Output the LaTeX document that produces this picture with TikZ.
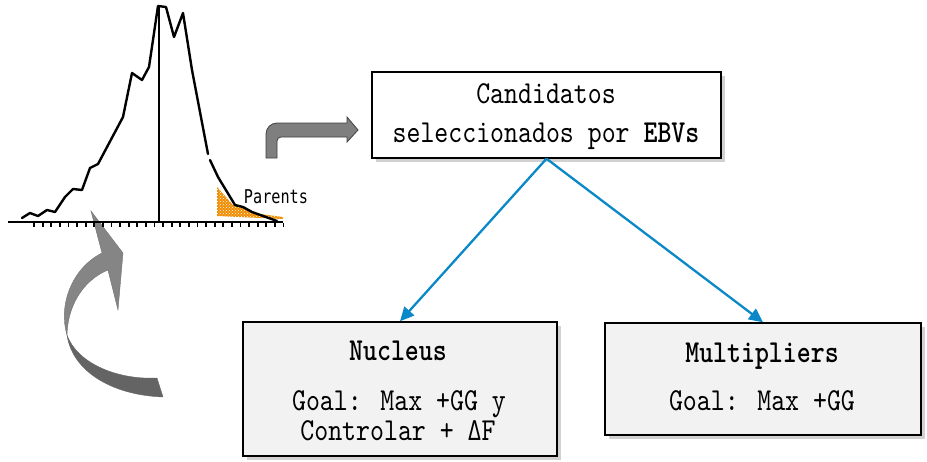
\documentclass[tikz,border=0pt]{standalone}
\usepackage{fontspec}
\newfontfamily\mainmono{lmmono10-regular.otf}[BoldFont=lmmonolt10-bold.otf,FakeStretch=0.83]
\newfontfamily\smallmono[FakeStretch=0.8]{DejaVu Sans Mono}
\usetikzlibrary{arrows.meta,shadows,patterns}
\definecolor{arrowblue}{RGB}{10,136,200}
\definecolor{boxgray}{RGB}{242,242,242}
\definecolor{arrowgrayA}{RGB}{133,133,133}
\definecolor{arrowgrayB}{RGB}{100,100,100}
\definecolor{bentgray}{RGB}{127,127,127}
\definecolor{parentorange}{RGB}{240,140,0}
\begin{document}
\begin{tikzpicture}[x=1pt,y=-1pt,
  boxw/.style={draw=black,line width=1.4pt,fill=white,inner sep=0pt,
    drop shadow={shadow xshift=3.5pt,shadow yshift=-3.5pt,fill=black!30,opacity=0.6}},
  boxg/.style={boxw,fill=boxgray},
  lbl/.style={font=\mainmono\fontsize{32}{36}\selectfont,anchor=base,inner sep=0pt},
  plbl/.style={font=\smallmono\fontsize{19}{22}\selectfont,anchor=base,inner sep=0pt},
  conn/.style={draw=arrowblue,line width=2.3pt,-{Triangle[length=14pt,width=13pt]}},
  curveline/.style={draw=black,line width=2.4pt,line join=round,line cap=round},
  axisline/.style={draw=black,line width=2.2pt}
]
\useasboundingbox (0,0) rectangle (927,461);

% big curved gray arrow (drawn first, axis passes over it)
\fill[arrowgrayB,draw=black!60,line width=0.4pt]
  (67,335) .. controls (72,370) and (110,395) .. (163,397)
  -- (157,378) .. controls (120,380) and (78,365) .. (67,335) -- cycle;
\fill[arrowgrayA,draw=black!55,line width=0.4pt]
  (91,211) -- (123,253) -- (118,310) -- (108,270)
  .. controls (88,278) and (68,300) .. (67,335)
  .. controls (58,305) and (72,268) .. (102,253) -- cycle;

% orange parents area
\fill[parentorange]
  (217,187) -- (233,205) -- (243,208) -- (252,213) -- (283,217) -- (283,219) -- (217,216) -- cycle;
\path[pattern=crosshatch dots,pattern color=white]
  (217,187) -- (233,205) -- (243,208) -- (252,213) -- (283,217) -- (283,219) -- (217,216) -- cycle;

% distribution curve
\draw[curveline] (22,218) -- (30,213) -- (38,216) -- (47,210) -- (55,212) -- (65,197)
  -- (73,189) -- (82,190) -- (90,168) -- (98,164) -- (123,117) -- (132,73) -- (142,80)
  -- (149,67) -- (158,6) -- (166,7) -- (174,37) -- (183,13) -- (192,70) -- (208,154);
\draw[curveline] (210,160) -- (218,177) -- (235,205) -- (243,207) -- (252,212) -- (277,221);
\draw[axisline] (159,6) -- (159,222);
\draw[axisline] (8,222) -- (283,222);
\foreach \i in {0,...,29} {
  \draw[line width=1.8pt] ({34+8.6*\i},223) -- ({34+8.6*\i},227);
}
\node[plbl] (parents) at (276,203) {Parents};

% bent gray arrow
\draw[fill=bentgray,draw=black!75,line width=0.8pt]
  (266,158) [rounded corners=11pt] -- (266,123) [sharp corners] -- (347,123) -- (347,117)
  -- (358,130) -- (347,142) -- (347,137) [rounded corners=4pt] -- (277,137) [sharp corners]
  -- (277,158) -- cycle;

% boxes
\node[boxw,minimum width=349pt,minimum height=86pt] (cand) at (546.5,115) {};
\node[boxg,minimum width=314pt,minimum height=134pt] (nuc) at (400,389) {};
\node[boxg,minimum width=316pt,minimum height=112pt] (mul) at (763,379) {};

\node[lbl] (c1) at (546,103) {Candidatos};
\node[lbl] (c2) at (546,142.5) {seleccionados por \textbf{EBVs}};
\node[lbl] (n1) at (398,360) {\textbf{Nucleus}};
\node[lbl] (n2) at (399,410) {Goal: Max +GG y};
\node[lbl] (n3) at (398,440) {Controlar + ΔF};
\node[lbl] (m1) at (762,362) {\textbf{Multipliers}};
\node[lbl] (m2) at (762,410) {Goal: Max +GG};

% connectors
\draw[conn] (cand.south) -- (nuc.north);
\draw[conn] (cand.south) -- (mul.north);
\end{tikzpicture}
\end{document}
